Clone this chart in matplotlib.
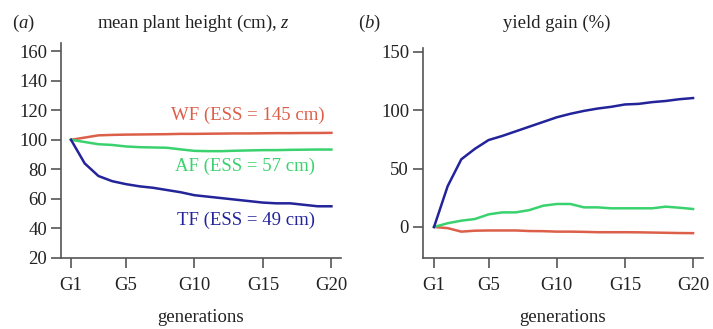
import matplotlib
matplotlib.use("Agg")
import matplotlib.pyplot as plt

plt.rcParams['font.family'] = ['Liberation Serif', 'DejaVu Serif']
plt.rcParams['mathtext.fontset'] = 'custom'
plt.rcParams['mathtext.rm'] = 'Liberation Serif'
plt.rcParams['mathtext.it'] = 'Liberation Serif:italic'

generations = list(range(1, 21))
tick_gens = [1, 5, 10, 15, 20]
tick_labels = ['G1', 'G5', 'G10', 'G15', 'G20']

# mean plant height (cm)
height_wf = [100, 101.5, 103, 103.3, 103.5, 103.6, 103.7, 103.8, 104, 104,
             104.1, 104.2, 104.3, 104.3, 104.4, 104.5, 104.5, 104.6, 104.6, 104.7]
height_af = [100, 98.5, 97, 96.5, 95.5, 95, 94.8, 94.6, 93.5, 92.5,
             92.3, 92.3, 92.6, 92.8, 93, 93, 93.2, 93.3, 93.4, 93.4]
height_tf = [100, 84, 75.5, 72, 70, 68.5, 67.5, 66, 64.5, 62.5,
             61.5, 60.5, 59.5, 58.5, 57.5, 57, 57, 56, 55, 55]

# yield gain (%)
yield_wf = [0, -1, -4, -3.2, -3, -3, -3, -3.5, -3.6, -4,
            -4, -4.2, -4.5, -4.5, -4.5, -4.6, -4.8, -5, -5.2, -5.3]
yield_af = [0, 3.2, 5.4, 6.8, 10.8, 12.5, 12.5, 14.5, 18.2, 19.7,
            19.7, 16.8, 16.8, 16, 16, 16, 16, 17.4, 16.5, 15.4]
yield_tf = [0, 35, 58, 67, 74.5, 78, 82, 86, 90, 94,
            97, 99.5, 101.5, 103, 105, 105.5, 107, 108, 109.5, 110.5]

red = '#dc5f4a'
green = '#3ad26e'
blue = '#23239a'
axcol = '#555555'
txtcol = '#222222'
fs = 13.5

fig = plt.figure(figsize=(7.13, 3.29), dpi=100)
ax1 = fig.add_axes([61 / 713, 71 / 329, 280 / 713, 215 / 329])
ax2 = fig.add_axes([423 / 713, 71 / 329, 280 / 713, 210 / 329])


def style(ax):
    for s in ['top', 'right']:
        ax.spines[s].set_visible(False)
    for s in ['left', 'bottom']:
        ax.spines[s].set_color(axcol)
        ax.spines[s].set_linewidth(1.2)
    ax.tick_params(axis='both', colors=axcol, labelcolor=txtcol,
                   length=7, width=1.2, labelsize=fs)
    ax.tick_params(axis='x', pad=7)
    ax.tick_params(axis='y', pad=3)
    ax.set_xticks(tick_gens)
    ax.set_xticklabels(tick_labels)
    ax.set_xlabel('generations', fontsize=fs, labelpad=10.5, color=txtcol)


lw = 1.8
ax1.plot(generations, height_wf, color=red, lw=lw)
ax1.plot(generations, height_af, color=green, lw=lw)
ax1.plot(generations, height_tf, color=blue, lw=lw)
ax1.set_xlim(0.27, 20.7)
ax1.set_ylim(20, 165.5)
ax1.set_yticks(range(20, 161, 20))
style(ax1)
ax1.text(19.5, 116.7, 'WF (ESS = 145 cm)', color=red, ha='right', va='center', fontsize=fs)
ax1.text(18.8, 82.2, 'AF (ESS = 57 cm)', color=green, ha='right', va='center', fontsize=fs)
ax1.text(18.8, 45.7, 'TF (ESS = 49 cm)', color=blue, ha='right', va='center', fontsize=fs)

ax2.plot(generations, yield_wf, color=red, lw=lw)
ax2.plot(generations, yield_af, color=green, lw=lw)
ax2.plot(generations, yield_tf, color=blue, lw=lw)
ax2.set_xlim(0.19, 20.73)
ax2.set_ylim(-26.6, 153.4)
ax2.set_yticks([0, 50, 100, 150])
style(ax2)

ty = 1 - 23 / 329
fig.text(12 / 713, ty, '($\\it{a}$)', fontsize=fs, va='center', ha='left', color=txtcol)
fig.text(193 / 713, ty, 'mean plant height (cm), $\\it{z}$', fontsize=fs,
         va='center', ha='center', color=txtcol)
fig.text(358 / 713, ty, '($\\it{b}$)', fontsize=fs, va='center', ha='left', color=txtcol)
fig.text(557 / 713, ty, 'yield gain (%)', fontsize=fs, va='center', ha='center', color=txtcol)

fig.savefig('out.png', dpi=100)
